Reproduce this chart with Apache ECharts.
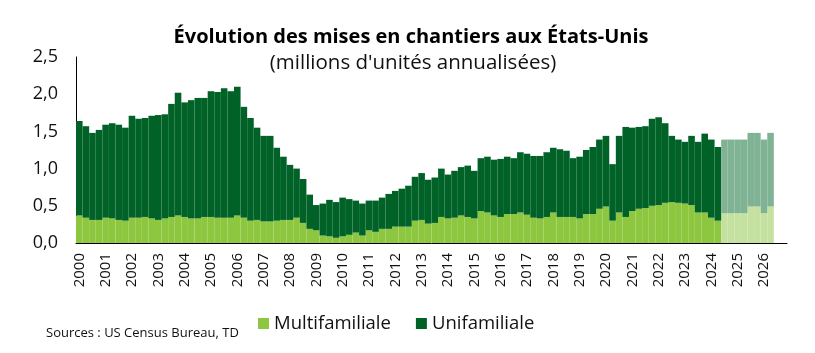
<!DOCTYPE html>
<html>
<head>
<meta charset="utf-8">
<script src="https://cdn.jsdelivr.net/npm/echarts@6/dist/echarts.min.js"></script>
<style>
  html, body { margin: 0; padding: 0; background: #fff; }
  #chart { width: 815px; height: 353px; }
</style>
</head>
<body>
<div id="chart"></div>
<script>
// trimestres 2000T1 .. 2026T4, libellé à chaque T1
const years = [];
for (let y = 2000; y <= 2026; y++) years.push(String(y));

// nombre de trimestres observés (le reste = prévisions)
const histCount = 98;

// millions d'unités annualisées
const multi = [
  0.37, 0.34, 0.31, 0.31, 0.34, 0.33, 0.31, 0.30, 0.34, 0.34,
  0.35, 0.33, 0.31, 0.33, 0.35, 0.37, 0.35, 0.33, 0.33, 0.35,
  0.35, 0.34, 0.34, 0.34, 0.37, 0.34, 0.30, 0.31, 0.29, 0.29,
  0.30, 0.31, 0.31, 0.34, 0.27, 0.19, 0.17, 0.10, 0.09, 0.07,
  0.09, 0.11, 0.14, 0.10, 0.17, 0.15, 0.19, 0.19, 0.22, 0.22,
  0.22, 0.30, 0.31, 0.26, 0.27, 0.35, 0.33, 0.34, 0.37, 0.35,
  0.33, 0.43, 0.41, 0.37, 0.35, 0.39, 0.39, 0.41, 0.38, 0.34,
  0.33, 0.35, 0.41, 0.35, 0.35, 0.35, 0.33, 0.39, 0.39, 0.46,
  0.49, 0.30, 0.41, 0.35, 0.43, 0.46, 0.47, 0.50, 0.51, 0.54,
  0.55, 0.54, 0.53, 0.51, 0.41, 0.41, 0.34, 0.30,
  // prévisions
  0.40, 0.40, 0.40, 0.40, 0.49, 0.49, 0.40, 0.49
];
const single = [
  1.27, 1.23, 1.17, 1.21, 1.25, 1.28, 1.28, 1.25, 1.37, 1.33,
  1.33, 1.38, 1.41, 1.40, 1.52, 1.65, 1.54, 1.59, 1.62, 1.60,
  1.69, 1.69, 1.74, 1.70, 1.73, 1.49, 1.38, 1.24, 1.15, 1.15,
  0.98, 0.85, 0.74, 0.66, 0.59, 0.46, 0.34, 0.43, 0.49, 0.48,
  0.52, 0.48, 0.43, 0.43, 0.40, 0.42, 0.42, 0.47, 0.48, 0.51,
  0.55, 0.59, 0.63, 0.59, 0.61, 0.65, 0.59, 0.63, 0.65, 0.69,
  0.64, 0.71, 0.75, 0.75, 0.78, 0.77, 0.75, 0.81, 0.82, 0.83,
  0.84, 0.87, 0.87, 0.91, 0.89, 0.79, 0.83, 0.86, 0.90, 0.93,
  0.95, 0.76, 1.03, 1.21, 1.12, 1.10, 1.10, 1.17, 1.18, 1.07,
  0.89, 0.85, 0.83, 0.93, 0.95, 1.06, 1.05, 0.99,
  // prévisions
  0.99, 0.99, 0.99, 0.99, 0.99, 0.99, 0.99, 0.99
];

const categories = [];
years.forEach(y => { for (let q = 1; q <= 4; q++) categories.push(y + 'T' + q); });

const colMulti = '#8dc63f', colMultiFc = '#c5e1a0';
const colSingle = '#006227', colSingleFc = '#80b394';

function withForecast(arr, fc) {
  return arr.map((v, i) => i >= histCount ? { value: v, itemStyle: { color: fc } } : v);
}

const chart = echarts.init(document.getElementById('chart'));
chart.setOption({
  animation: false,
  textStyle: { fontFamily: 'Open Sans' },
  grid: { left: 76, right: 28, top: 57, bottom: 110, containLabel: false },
  legend: {
    data: ['Multifamiliale', 'Unifamiliale'],
    left: 253, top: 309,
    icon: 'rect', itemWidth: 11, itemHeight: 11, itemGap: 25,
    textStyle: { fontSize: 18.5, color: '#111' }
  },
  graphic: [
    { type: 'text', x: 411, y: 27, style: {
      text: 'Évolution des mises en chantiers aux États-Unis', align: 'center',
      font: 'bold 20px "Open Sans"', fill: '#000' } },
    { type: 'text', x: 413, y: 53, style: {
      text: "(millions d'unités annualisées)", align: 'center',
      font: '20.5px "Open Sans"', fill: '#111' } },
    { type: 'text', left: 46, top: 327, style: {
      text: 'Sources : US Census Bureau, TD',
      font: '13px "Open Sans"', fill: '#111' } }
  ],
  xAxis: {
    type: 'category',
    data: categories,
    axisLine: { lineStyle: { color: '#000', width: 1 } },
    axisTick: { show: false },
    axisLabel: {
      interval: (i) => i % 4 === 0,
      formatter: (v) => v.slice(0, 4),
      rotate: 90, margin: 10,
      fontSize: 15, color: '#111'
    }
  },
  yAxis: {
    type: 'value', min: 0, max: 2.5, interval: 0.5,
    axisLine: { show: true, lineStyle: { color: '#000', width: 1 } },
    axisTick: { show: false },
    splitLine: { show: false },
    axisLabel: {
      margin: 18, fontSize: 18, color: '#111',
      formatter: (v) => v.toFixed(1).replace('.', ',')
    }
  },
  series: [
    { name: 'Multifamiliale', type: 'bar', stack: 'total', barCategoryGap: '0%',
      itemStyle: { color: colMulti }, data: withForecast(multi, colMultiFc) },
    { name: 'Unifamiliale', type: 'bar', stack: 'total', barCategoryGap: '0%',
      itemStyle: { color: colSingle }, data: withForecast(single, colSingleFc) }
  ]
});
</script>
</body>
</html>
